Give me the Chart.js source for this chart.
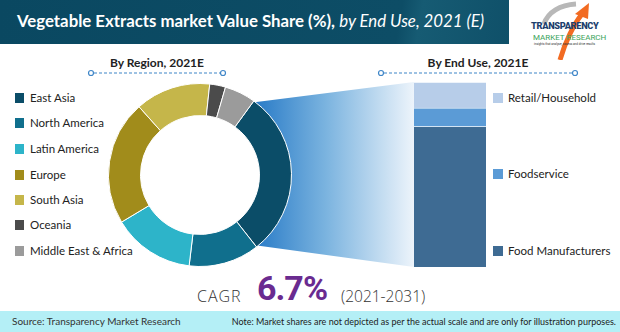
<!DOCTYPE html>
<html>
<head>
<meta charset="utf-8">
<script src="https://cdn.jsdelivr.net/npm/chart.js@4.4.1/dist/chart.umd.min.js"></script>
<style>
  html, body { margin: 0; padding: 0; }
  body { width: 620px; height: 332px; position: relative; overflow: hidden; background: #fff; font-family: Lato, "Open Sans", sans-serif; }
  .abs { position: absolute; }
  #titlebar { left: 0; top: 0; width: 509px; height: 44px; background: linear-gradient(100deg, #0a4861 0%, #0d4d66 78%, #165b73 82%, #0f5069 100%); }
  #title { left: 17px; top: 10px; color: #fff; font-size: 16.8px; white-space: nowrap; }
  #title b { font-weight: 700; }
  #title i { font-weight: 400; }
  .head { font-weight: 700; font-size: 12px; color: #222; white-space: nowrap; transform: translateX(-50%); }
  .legend { font-size: 11.5px; color: #222; }
  .legend .row { position: absolute; white-space: nowrap; height: 14px; line-height: 14px; }
  .legend .sw { position: absolute; left: 0; top: 2px; width: 9px; height: 10px; }
  .legend .tx { position: absolute; left: 15px; top: 0; }
  #cagr { left: 197px; top: 285px; font-family: "Open Sans", sans-serif; font-weight: 300; font-size: 16px; color: #333; letter-spacing: 1px; }
  #cagrval { left: 257px; top: 268px; font-family: Roboto, sans-serif; font-weight: 700; font-size: 34px; color: #6a2b90; letter-spacing: -1px; }
  #period { left: 341px; top: 285px; font-family: "Open Sans", sans-serif; font-weight: 300; font-size: 15.5px; color: #333; }
  #footer { left: 0; top: 311px; width: 620px; height: 21px; background: #b4eff6; }
  #source { left: 12px; top: 315px; font-size: 10px; color: #333; white-space: nowrap; }
  #note { right: 4px; top: 316px; font-size: 9px; color: #222; white-space: nowrap; }
  #logo1 { left: 531px; top: 20px; font-family: Roboto, sans-serif; font-weight: 900; font-size: 9.2px; color: #1d3f6e; letter-spacing: -0.3px; z-index: 3; }
  #logo2 { left: 533px; top: 33px; font-family: Roboto, sans-serif; font-weight: 400; font-size: 8px; color: #3aa35a; letter-spacing: 0px; z-index: 3; }
  #logo3 { left: 534px; top: 42px; font-family: Roboto, sans-serif; font-size: 3px; color: #333; white-space: nowrap; z-index: 3; }
</style>
</head>
<body>
<div id="titlebar" class="abs"></div>
<div id="title" class="abs"><b>Vegetable Extracts market Value Share (%),</b> <i>by End Use, 2021 (E)</i></div>

<svg class="abs" style="left:510px;top:0" width="110" height="60">
  <path d="M34 24 C 38 12, 50 5, 66 4" stroke="#b8b8b8" stroke-width="5" fill="none"/>
  <path d="M50 60 C 55 42, 64 24, 72 14" stroke="#f26b22" stroke-width="5" fill="none"/>
  <polygon points="65,14 79,3 78,19" fill="#f26b22"/>
</svg>
<div id="logo1" class="abs">TRANSPARENCY</div>
<div id="logo2" class="abs">MARKET RESEARCH</div>
<div id="logo3" class="abs">insights that analyse, assess and drive results</div>

<div class="abs head" style="left:157px;top:55px">By Region, 2021E</div>
<div class="abs head" style="left:478px;top:55px">By End Use, 2021E</div>
<svg class="abs" style="left:0;top:68px" width="620" height="12">
  <line x1="94" y1="5" x2="220" y2="5" stroke="#3f86c8" stroke-width="1.2" stroke-dasharray="3,2"/>
  <circle cx="91" cy="5" r="2.5" stroke="#3f86c8" stroke-width="1.2" fill="#fff"/>
  <circle cx="223" cy="5" r="2.5" stroke="#3f86c8" stroke-width="1.2" fill="#fff"/>
  <line x1="384" y1="5" x2="572" y2="5" stroke="#3f86c8" stroke-width="1.2" stroke-dasharray="3,2"/>
  <circle cx="381" cy="5" r="2.5" stroke="#3f86c8" stroke-width="1.2" fill="#fff"/>
  <circle cx="575" cy="5" r="2.5" stroke="#3f86c8" stroke-width="1.2" fill="#fff"/>
</svg>

<div id="regionLegend" class="abs legend" style="left:15px;top:0"></div>
<div id="useLegend" class="abs legend" style="left:493px;top:0"></div>

<canvas id="bar" class="abs" style="left:200px;top:70px;z-index:1" width="310" height="210"></canvas>
<canvas id="donut" class="abs" style="left:100px;top:75px;z-index:2" width="200" height="200"></canvas>

<div id="cagr" class="abs">CAGR</div>
<div id="cagrval" class="abs">6.7%</div>
<div id="period" class="abs">(2021-2031)</div>

<div id="footer" class="abs"></div>
<div id="source" class="abs">Source: Transparency Market Research</div>
<div id="note" class="abs">Note: Market shares are not depicted as per the actual scale and are only for illustration purposes.</div>

<script>
const regions = ["East Asia", "North America", "Latin America", "Europe", "South Asia", "Oceania", "Middle East & Africa"]
const regionShares = [29.4, 12.5, 14.5, 22.0, 13.3, 2.8, 5.5]
const regionColors = ["#0b4d68", "#106f8d", "#2db4c9", "#a18c1b", "#c5b64a", "#4b4b4b", "#9b9b9b"]
const regionLegendY = [91, 116, 142, 168, 193, 218, 244]

const endUses = ["Food Manufacturers", "Foodservice", "Retail/Household"]
const endUseShares = [76, 10, 14]
const endUseColors = ["#3e6b93", "#5b9bd6", "#b7cde9"]
const endUseLegendY = [244, 167, 91]

// legends
const buildLegend = (el, labels, colors, ys, swW) => {
  labels.forEach((l, i) => {
    const row = document.createElement("div")
    row.className = "row"
    row.style.top = ys[i] + "px"
    row.innerHTML = `<span class="sw" style="background:${colors[i]};width:${swW}px"></span><span class="tx">${l}</span>`
    el.appendChild(row)
  })
}
buildLegend(document.getElementById("regionLegend"), regions, regionColors, regionLegendY, 9)
buildLegend(document.getElementById("useLegend"), endUses, endUseColors, endUseLegendY, 10)

const donutChart = new Chart("donut", {
  type: "doughnut",
  data: {
    labels: regions,
    datasets: [{
      data: regionShares,
      backgroundColor: regionColors,
      borderColor: "#ffffff",
      borderWidth: 1
    }]
  },
  options: {
    responsive: false,
    animation: false,
    rotation: 36,
    cutout: "65%",
    layout: { padding: 8 },
    plugins: { legend: { display: false }, tooltip: { enabled: false } }
  }
})

// gradient wedge that ties the East Asia arc to the stacked bar
const connector = {
  id: "connector",
  beforeDatasetsDraw(chart) {
    const arc = donutChart.getDatasetMeta(0).data[0]
    const dRect = donutChart.canvas.getBoundingClientRect()
    const bRect = chart.canvas.getBoundingClientRect()
    const cx = arc.x + dRect.left - bRect.left
    const cy = arc.y + dRect.top - bRect.top
    const r = arc.outerRadius - 2
    const { left, top, bottom } = chart.chartArea
    const x0 = cx + r * Math.cos(arc.startAngle)
    const ctx = chart.ctx
    const g = ctx.createLinearGradient(x0, 0, left, 0)
    g.addColorStop(0, "#2679c6")
    g.addColorStop(0.45, "#7ab3df")
    g.addColorStop(1, "#edf4fb")
    ctx.save()
    ctx.beginPath()
    ctx.moveTo(cx + r * Math.cos(arc.startAngle), cy + r * Math.sin(arc.startAngle))
    ctx.lineTo(left, top)
    ctx.lineTo(left, bottom)
    ctx.lineTo(cx + r * Math.cos(arc.endAngle), cy + r * Math.sin(arc.endAngle))
    ctx.arc(cx, cy, r, arc.endAngle, arc.startAngle, true)
    ctx.closePath()
    ctx.fillStyle = g
    ctx.fill()
    ctx.restore()
  }
}

new Chart("bar", {
  type: "bar",
  data: {
    labels: ["2021E"],
    datasets: endUses.map((u, i) => ({
      label: u,
      data: [endUseShares[i]],
      backgroundColor: endUseColors[i],
      borderColor: "rgba(255,255,255,0.3)",
      borderWidth: { top: 1 },
      barPercentage: 1,
      categoryPercentage: 1
    }))
  },
  options: {
    responsive: false,
    animation: false,
    layout: { padding: { left: 214, right: 24, top: 12, bottom: 13 } },
    scales: {
      x: { stacked: true, display: false },
      y: { stacked: true, display: false, min: 0, max: 100 }
    },
    plugins: { legend: { display: false }, tooltip: { enabled: false } }
  },
  plugins: [connector]
})
</script>
</body>
</html>
